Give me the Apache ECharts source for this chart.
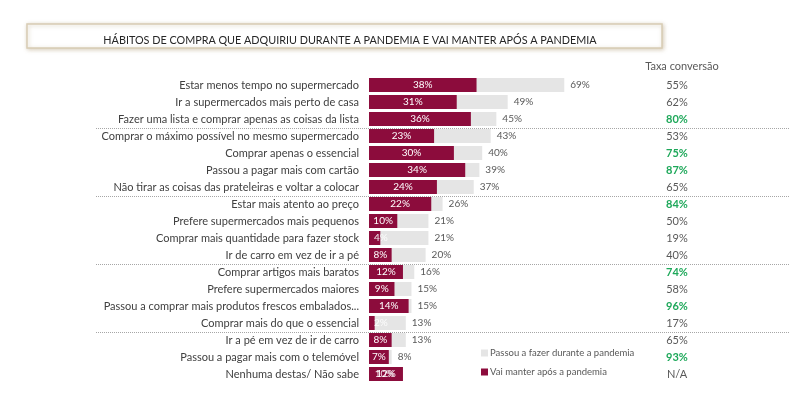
<!DOCTYPE html>
<html>
<head>
<meta charset="utf-8">
<script src="https://cdn.jsdelivr.net/npm/echarts@6/dist/echarts.min.js"></script>
<style>
  html, body { margin: 0; padding: 0; background: #fff; }
  #chart { width: 800px; height: 398px; }
</style>
</head>
<body>
<div id="chart"></div>
<script>
// categorias (de cima para baixo)
const categories = [
  'Estar menos tempo no supermercado',
  'Ir a supermercados mais perto de casa',
  'Fazer uma lista e comprar apenas as coisas da lista',
  'Comprar o máximo possível no mesmo supermercado',
  'Comprar apenas o essencial',
  'Passou a pagar mais com cartão',
  'Não tirar as coisas das prateleiras e voltar a colocar',
  'Estar mais atento ao preço',
  'Prefere supermercados mais pequenos',
  'Comprar mais quantidade para fazer stock',
  'Ir de carro em vez de ir a pé',
  'Comprar artigos mais baratos',
  'Prefere supermercados maiores',
  'Passou a comprar mais produtos frescos embalados...',
  'Comprar mais do que o essencial',
  'Ir a pé em vez de ir de carro',
  'Passou a pagar mais com o telemóvel',
  'Nenhuma destas/ Não sabe'
];
const duringPandemic = [69, 49, 45, 43, 40, 39, 37, 26, 21, 21, 20, 16, 15, 15, 13, 13, 8, 10];
const keepAfter = [38, 31, 36, 23, 30, 34, 24, 22, 10, 4, 8, 12, 9, 14, 2, 8, 7, 12];
const conversionRate = ['55%', '62%', '80%', '53%', '75%', '87%', '65%', '84%', '50%', '19%', '40%', '74%', '58%', '96%', '17%', '65%', '93%', 'N/A'];
const highlighted = [false, false, true, false, true, true, false, true, false, false, false, true, false, true, false, false, true, false];
// separadores depois destas linhas
const groupBreaks = [3, 7, 11, 15];

const seriesNames = ['Passou a fazer durante a pandemia', 'Vai manter após a pandemia'];
const colors = { during: '#e5e5e5', keep: '#8c0c3c', text: '#404040', label: '#595959', green: '#1ea85a' };
const FONT = 'Lato, "Noto Sans", sans-serif';

const chart = echarts.init(document.getElementById('chart'));

const option = {
  animation: false,
  textStyle: { fontFamily: FONT },
  title: [
    {
      text: 'HÁBITOS DE COMPRA QUE ADQUIRIU DURANTE A PANDEMIA E VAI MANTER APÓS A PANDEMIA',
      left: 345,
      top: 30,
      textAlign: 'center',
      textStyle: { fontSize: 10.8, fontWeight: 'normal', color: '#262626' }
    },
    {
      text: 'Taxa conversão',
      left: 677,
      top: 56,
      textAlign: 'center',
      textStyle: { fontSize: 11, fontWeight: 'normal', color: colors.label }
    }
  ],
  legend: {
    orient: 'vertical',
    left: 476,
    top: 343,
    itemGap: 9,
    itemWidth: 7,
    itemHeight: 7,
    icon: 'rect',
    data: seriesNames,
    textStyle: { fontSize: 9.5, color: colors.label, padding: [0, 0, 0, -3] }
  },
  grid: { left: 369, top: 76.5, width: 283, height: 306 },
  xAxis: {
    type: 'value',
    min: 0,
    max: 100,
    show: false
  },
  yAxis: [
    {
      type: 'category',
      inverse: true,
      data: categories,
      axisLine: { show: false },
      axisTick: { show: false },
      splitLine: { show: false },
      axisLabel: { margin: 10, fontSize: 11, color: colors.text }
    },
    {
      type: 'category',
      inverse: true,
      position: 'right',
      data: conversionRate,
      axisLine: { show: false },
      axisTick: { show: false },
      axisLabel: {
        margin: 25,
        align: 'center',
        fontSize: 11,
        formatter: (value, idx) => highlighted[idx] ? '{g|' + value + '}' : '{n|' + value + '}',
        rich: {
          g: { color: colors.green, fontWeight: 'bold', fontSize: 11 },
          n: { color: colors.label, fontSize: 11 }
        }
      }
    }
  ],
  series: [
    {
      name: seriesNames[0],
      type: 'bar',
      barWidth: 14,
      itemStyle: { color: colors.during },
      label: { show: true, position: 'right', distance: 6, fontSize: 10, color: colors.label, formatter: '{c}%' },
      data: duringPandemic.map((v, i) => v < keepAfter[i]
        ? { value: v, label: { position: 'insideRight', distance: 3, color: 'rgba(255,255,255,0.85)' } }
        : v)
    },
    {
      name: seriesNames[1],
      type: 'bar',
      barWidth: 14,
      barGap: '-100%',
      itemStyle: { color: colors.keep },
      label: { show: true, position: 'inside', fontSize: 10, color: '#ffffff', formatter: '{c}%' },
      // barras muito curtas: o texto começa dentro da barra e passa para o cinzento
      data: keepAfter.map(v => v < 6
        ? { value: v, label: { position: 'insideLeft', distance: 5, color: 'rgba(255,255,255,0.9)' } }
        : v)
    }
  ]
};

chart.setOption(option);

// linhas pontilhadas entre os grupos
const y0 = chart.convertToPixel({ yAxisIndex: 0 }, 0);
const y1 = chart.convertToPixel({ yAxisIndex: 0 }, 1);
const band = y1 - y0;
const lines = groupBreaks.map(k => {
  const y = Math.round(chart.convertToPixel({ yAxisIndex: 0 }, k) - band / 2) + 0.5;
  return {
    type: 'line',
    silent: true,
    shape: { x1: 96, y1: y, x2: 790, y2: y },
    style: { stroke: '#a6a6a6', lineWidth: 1, lineDash: [1, 1] }
  };
});

chart.setOption({
  graphic: [
    {
      type: 'rect',
      z: -1,
      silent: true,
      shape: { x: 27, y: 24, width: 635, height: 24 },
      style: { fill: '#ffffff', stroke: '#d8ccb4', lineWidth: 1.5, shadowBlur: 4, shadowColor: 'rgba(170,150,110,0.45)', shadowOffsetX: 1, shadowOffsetY: 1 }
    }
  ].concat(lines)
});
</script>
</body>
</html>
